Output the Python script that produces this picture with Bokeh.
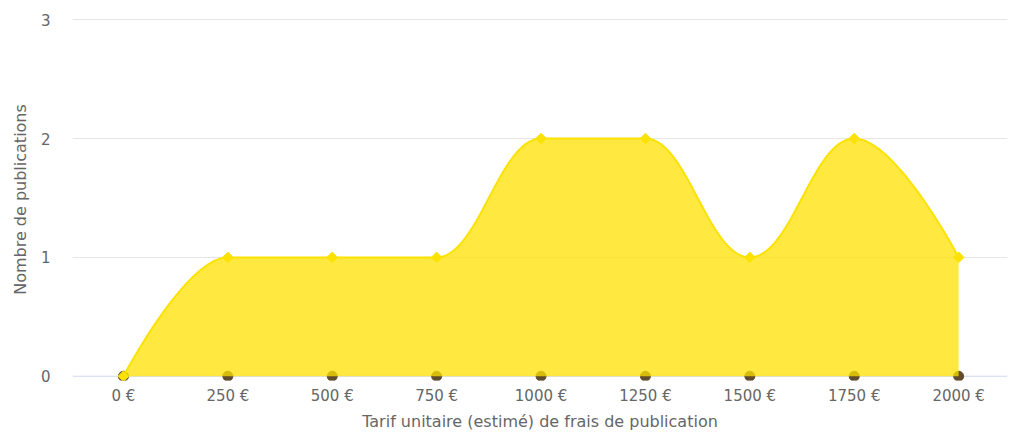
import numpy as np
from bokeh.plotting import figure
from bokeh.models import FixedTicker, Range1d, Span
from bokeh.embed import file_html
from bokeh.resources import INLINE

# ---- data ----
tarifs = [0, 250, 500, 750, 1000, 1250, 1500, 1750, 2000]
publications = [0, 1, 1, 1, 2, 2, 1, 2, 1]
zero_series = [0, 0, 0, 0, 0, 0, 0, 0, 0]
x_tick_labels = ["0 €", "250 €", "500 €", "750 €", "1000 €", "1250 €", "1500 €", "1750 €", "2000 €"]
y_ticks = [0, 1, 2, 3]
x_title = "Tarif unitaire (estimé) de frais de publication"
y_title = "Nombre de publications"

YELLOW_LINE = "#fbe200"
YELLOW_FILL = "#ffe200"
BROWN = "#614d2e"
FONT = "DejaVu Sans"


def spline_curve(xs, ys, smoothing=1.5, n=40):
    """Smooth spline through the points (same control-point rule as Highcharts)."""
    xs = [float(v) for v in xs]
    ys = [float(v) for v in ys]
    m = len(xs)
    left = [None] * m
    right = [None] * m
    denom = smoothing + 1
    for i in range(1, m - 1):
        px, py = xs[i], ys[i]
        lx, ly = xs[i - 1], ys[i - 1]
        nx, ny = xs[i + 1], ys[i + 1]
        lcx = (smoothing * px + lx) / denom
        lcy = (smoothing * py + ly) / denom
        rcx = (smoothing * px + nx) / denom
        rcy = (smoothing * py + ny) / denom
        corr = 0.0
        if rcx != lcx:
            corr = (rcy - lcy) * (rcx - px) / (rcx - lcx) + py - rcy
        lcy += corr
        rcy += corr
        if lcy > ly and lcy > py:
            lcy = max(ly, py)
            rcy = 2 * py - lcy
        elif lcy < ly and lcy < py:
            lcy = min(ly, py)
            rcy = 2 * py - lcy
        if rcy > ny and rcy > py:
            rcy = max(ny, py)
            lcy = 2 * py - rcy
        elif rcy < ny and rcy < py:
            rcy = min(ny, py)
            lcy = 2 * py - rcy
        left[i] = (lcx, lcy)
        right[i] = (rcx, rcy)
    cx, cy = [xs[0]], [ys[0]]
    t = np.linspace(0, 1, n)[1:]
    for i in range(1, m):
        p0 = np.array([xs[i - 1], ys[i - 1]])
        p3 = np.array([xs[i], ys[i]])
        c1 = np.array(right[i - 1]) if right[i - 1] is not None else p0
        c2 = np.array(left[i]) if left[i] is not None else p3
        bx = (1 - t) ** 3 * p0[0] + 3 * (1 - t) ** 2 * t * c1[0] + 3 * (1 - t) * t ** 2 * c2[0] + t ** 3 * p3[0]
        by = (1 - t) ** 3 * p0[1] + 3 * (1 - t) ** 2 * t * c1[1] + 3 * (1 - t) * t ** 2 * c2[1] + t ** 3 * p3[1]
        cx.extend(bx.tolist())
        cy.extend(by.tolist())
    return cx, cy


curve_x, curve_y = spline_curve(tarifs, publications)

p = figure(
    width=1011, height=433,
    output_backend="svg", toolbar_location=None,
    x_range=Range1d(-122, 2117), y_range=Range1d(-0.036, 3.01),
    min_border_left=72, min_border_right=4, min_border_top=18, min_border_bottom=50,
)
p.outline_line_color = None
p.background_fill_color = "white"
p.border_fill_color = "white"

# x axis baseline at zero (under the series)
p.add_layout(Span(location=0, dimension="width", line_color="#ccd6eb", line_width=1, level="underlay"))

# zero series (drawn under the area)
p.scatter(tarifs, zero_series, size=10, marker="circle", fill_color=BROWN, line_color=BROWN)

# area spline
p.varea(x=curve_x, y1=[0] * len(curve_x), y2=curve_y, fill_color=YELLOW_FILL, fill_alpha=0.75)
p.line(curve_x, curve_y, line_color=YELLOW_LINE, line_width=2)
p.scatter(tarifs, publications, marker="square", angle=np.pi / 4, size=7.5,
          fill_color=YELLOW_LINE, line_color=YELLOW_LINE)

# axes
p.xaxis.ticker = FixedTicker(ticks=tarifs)
p.xaxis.major_label_overrides = {t: lab for t, lab in zip(tarifs, x_tick_labels)}
p.yaxis.ticker = FixedTicker(ticks=y_ticks)

p.xaxis.axis_label = x_title
p.yaxis.axis_label = y_title

for ax in (p.xaxis, p.yaxis):
    ax.major_tick_line_color = None
    ax.minor_tick_line_color = None
    ax.major_label_text_font = FONT
    ax.major_label_text_font_size = "15px"
    ax.major_label_text_color = "#666666"
    ax.axis_label_text_font = FONT
    ax.axis_label_text_font_size = "16px"
    ax.axis_label_text_font_style = "normal"
    ax.axis_label_text_color = "#666666"

p.xaxis.axis_line_color = None
p.xaxis.major_label_standoff = 0
p.xaxis.axis_label_standoff = 4
p.yaxis.axis_line_color = None
p.yaxis.major_label_standoff = 16
p.yaxis.axis_label_standoff = 8

p.xgrid.grid_line_color = None
p.ygrid.grid_line_color = "#e6e6e6"
p.ygrid.ticker = FixedTicker(ticks=[1, 2, 3])

open("out.html", "w").write(file_html(p, INLINE))
